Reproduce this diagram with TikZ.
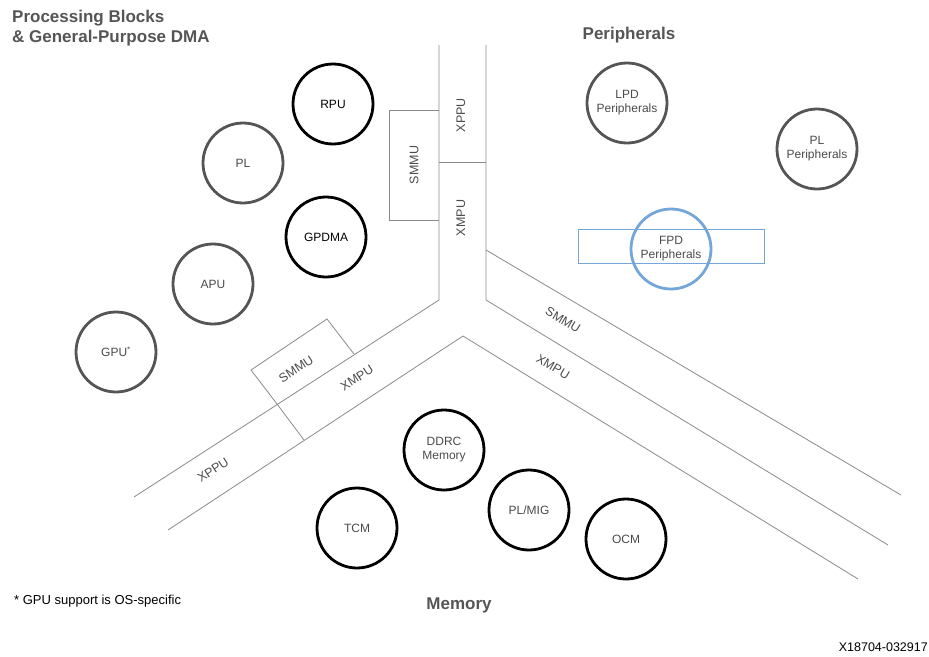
\documentclass[tikz,border=0pt]{standalone}
\usepackage{fontspec}
\setmainfont{Liberation Sans}
\definecolor{ringgray}{HTML}{555555}
\definecolor{txtgray}{HTML}{4A4A4A}
\definecolor{linegray}{HTML}{8A8A8A}
\definecolor{fpdblue}{HTML}{74A6DA}
\begin{document}
\begin{tikzpicture}[x=1pt,y=-1pt,
  band/.style={draw=linegray,line width=0.8pt},
  ring/.style={circle,minimum size=80pt,inner sep=0pt,line width=2.8pt,align=center,
     text=txtgray,font=\fontsize{12}{14}\selectfont},
  blackring/.style={ring,draw=black},
  grayring/.style={ring,draw=ringgray},
  bluering/.style={ring,draw=fpdblue},
  blabel/.style={text=txtgray,font=\fontsize{12.5}{14}\selectfont,inner sep=0pt},
  title/.style={text=ringgray,font=\fontsize{17}{20}\selectfont\bfseries,inner sep=0pt,align=left}]
\useasboundingbox (0,0) rectangle (929,656);
% trunk and bands
\draw[band] (439,45) -- (439,300) -- (134,497);
\draw[band] (486,45) -- (486,300) -- (888,545);
\draw[band] (486,250) -- (901,495);
\draw[band] (168,530) -- (463,336) -- (858,579);
\draw[band] (439,162) -- (486,162);
\draw[band] (439,110) -- (389,110) -- (389,220) -- (439,220);
\draw[band] (277,404) -- (251,370) -- (327,319) -- (354,354);
\draw[band] (277,404) -- (304,440);
\draw[draw=fpdblue,line width=0.8pt] (578,229) rectangle (764,263);
% band labels
\node[blabel,rotate=90] (xppuv) at (461,115) {XPPU};
\node[blabel,rotate=90] (xmpuv) at (461,218) {XMPU};
\node[blabel,rotate=90] (smmuv) at (414,165) {SMMU};
\node[blabel,rotate=33] (smmul) at (296,369) {SMMU};
\node[blabel,rotate=33] (xmpul) at (357,378) {XMPU};
\node[blabel,rotate=33] (xppul) at (213,470) {XPPU};
\node[blabel,rotate=-31] (smmur) at (563,320) {SMMU};
\node[blabel,rotate=-31] (xmpur) at (553,367) {XMPU};
% circles
\node[blackring,text=black] (rpu) at (333,104) {RPU};
\node[grayring] (pl) at (243,163) {PL};
\node[blackring,text=black] (gpdma) at (326,237) {GPDMA};
\node[grayring] (apu) at (213,284) {APU};
\node[grayring] (gpu) at (116,352) {GPU\textsuperscript{*}};
\node[grayring] (lpd) at (627,103) {LPD\\Peripherals};
\node[grayring] (plp) at (817,149) {PL\\Peripherals};
\node[bluering] (fpd) at (671,249) {FPD\\Peripherals};
\node[blackring] (ddrc) at (444,450) {DDRC\\Memory};
\node[blackring] (tcm) at (357,528) {TCM};
\node[blackring] (plmig) at (529,510) {PL/MIG};
\node[blackring] (ocm) at (626,539) {OCM};
% titles
\node[title,anchor=north west] (ttl) at (12,10) {Processing Blocks\\\& General-Purpose DMA};
\node[title] (per) at (629,35) {Peripherals};
\node[title] (mem) at (459,605) {Memory};
\node[anchor=west,inner sep=0pt,font=\fontsize{13}{15}\selectfont,text=black] (note) at (14,601) {* GPU support is OS-specific};
\node[anchor=east,inner sep=0pt,font=\fontsize{12.5}{14}\selectfont,text=black] (xid) at (928,647) {X18704-032917};
\end{tikzpicture}
\end{document}
